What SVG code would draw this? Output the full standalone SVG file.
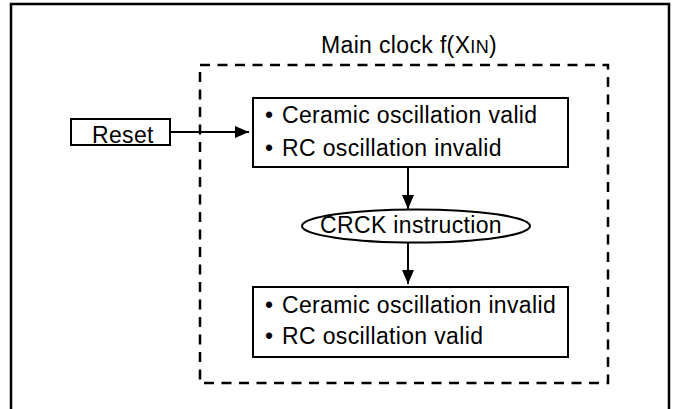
<svg xmlns="http://www.w3.org/2000/svg" width="674" height="409" viewBox="0 0 674 409">
<defs>
<style>
text{font-family:"Liberation Sans",Arial,sans-serif;font-size:23px;letter-spacing:0.35px;fill:#000}
.box{fill:#fff;stroke:#000;stroke-width:2}
.conn{stroke:#000;stroke-width:2;fill:none}
</style>
<marker id="ah" viewBox="0 0 14 12" refX="14" refY="6" markerWidth="14" markerHeight="12" markerUnits="userSpaceOnUse" orient="auto">
<path d="M0,0 L14,6 L0,12 Z" fill="#000"/>
</marker>
</defs>
<rect width="674" height="409" fill="#fff"/>
<g id="frame">
<path d="M11,415 V4 H669 V415" fill="none" stroke="#000" stroke-width="2.5"/>
</g>
<g id="main-clock">
<rect x="200" y="65" width="408" height="318" fill="none" stroke="#000" stroke-width="2.5" stroke-dasharray="10 7.5"/>
<text x="321" y="53">Main clock f(X<tspan font-size="18">IN</tspan>)</text>
</g>
<g id="reset">
<rect class="box" x="71" y="119" width="99" height="26"/>
<text x="92" y="143">Reset</text>
</g>
<g id="state1">
<rect class="box" x="253" y="98" width="315" height="69"/>
<text y="123"><tspan x="265">•</tspan><tspan x="282">Ceramic oscillation valid</tspan></text>
<text y="156"><tspan x="265">•</tspan><tspan x="282">RC oscillation invalid</tspan></text>
</g>
<g id="crck">
<ellipse cx="416" cy="226" rx="114" ry="16.5" fill="#fff" stroke="#000" stroke-width="2"/>
<text x="320" y="233">CRCK instruction</text>
</g>
<g id="state2">
<rect class="box" x="253" y="287" width="315" height="70"/>
<text y="313"><tspan x="265">•</tspan><tspan x="282">Ceramic oscillation invalid</tspan></text>
<text y="344"><tspan x="265">•</tspan><tspan x="282">RC oscillation valid</tspan></text>
</g>
<g id="connectors">
<line class="conn" x1="170" y1="132" x2="249" y2="132" marker-end="url(#ah)"/>
<line class="conn" x1="408" y1="168" x2="408" y2="209" marker-end="url(#ah)"/>
<line class="conn" x1="408" y1="243" x2="408" y2="284" marker-end="url(#ah)"/>
</g>
</svg>
